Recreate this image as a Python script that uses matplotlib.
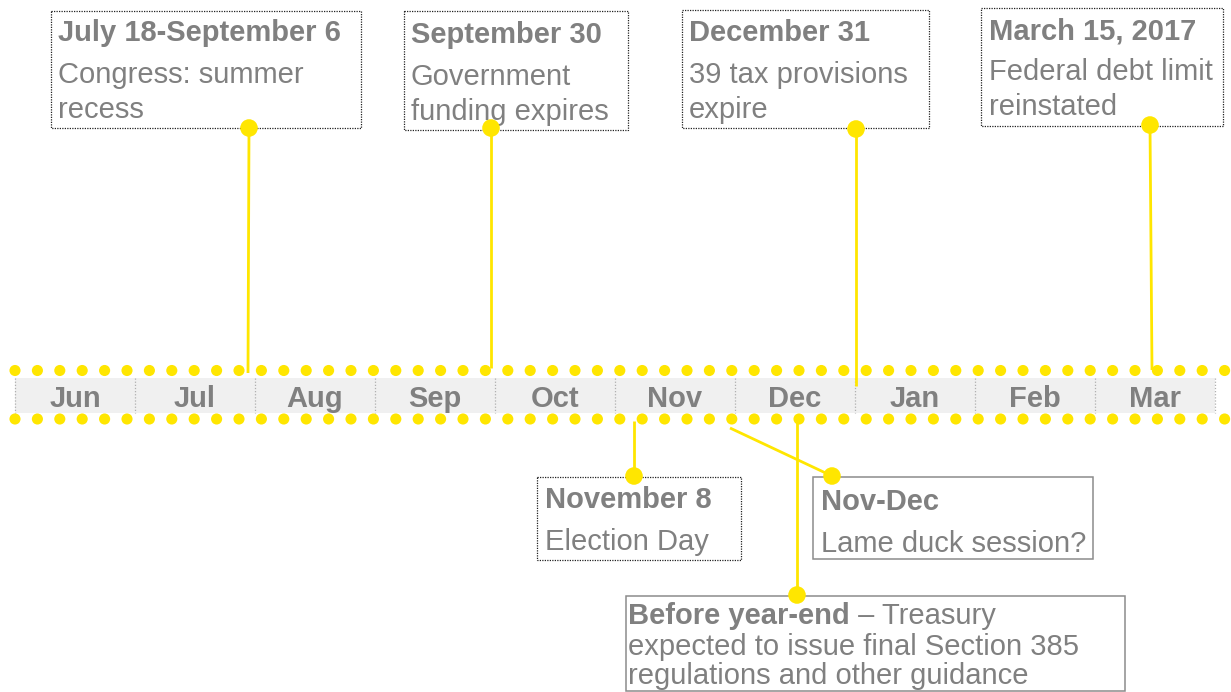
import matplotlib
matplotlib.use("Agg")
import matplotlib.pyplot as plt
from matplotlib.patches import Rectangle

# ---------------- data ----------------
months = ["Jun", "Jul", "Aug", "Sep", "Oct", "Nov", "Dec", "Jan", "Feb", "Mar"]

upper_titles = ["July 18-September 6", "September 30", "December 31", "March 15, 2017"]
upper_bodies = [["Congress: summer", "recess"],
                ["Government", "funding expires"],
                ["39 tax provisions", "expire"],
                ["Federal debt limit", "reinstated"]]

lower_titles = ["November 8", "Nov-Dec"]
lower_bodies = [["Election Day"], ["Lame duck session?"]]

yearend_title = "Before year-end"
yearend_rest = " \u2013 Treasury"
yearend_lines = ["expected to issue final Section 385", "regulations and other guidance"]

# ---------------- layout (pixels) ----------------
W, H = 1231, 692
YELLOW = "#FFE600"
GRAY = "#808080"
FS = 21
FONT = "Liberation Sans"

fig = plt.figure(figsize=(W / 100, H / 100), dpi=100)
ax = fig.add_axes([0, 0, 1, 1])
ax.set_xlim(0, W)
ax.set_ylim(H, 0)
ax.axis("off")

# timeline band
band_x0, cell_w, band_top, band_bot = 15, 120, 378, 413
for i, m in enumerate(months):
    x0 = band_x0 + i * cell_w
    ax.add_patch(Rectangle((x0, band_top), cell_w, band_bot - band_top,
                           facecolor="#f0f0f0", edgecolor="none", zorder=1))
    ax.text(x0 + cell_w / 2, 407, m, ha="center", va="baseline", fontsize=FS,
            fontweight="bold", color=GRAY, family=FONT, zorder=3)
for i in range(len(months) + 1):
    x = band_x0 + i * cell_w
    ax.plot([x, x], [band_top, band_bot], color="#b0b0b0", lw=0.9,
            ls=(0, (1, 1.5)), zorder=2)

# dotted yellow rows
n_dots = 55
xs = [15 + k * 22.4 for k in range(n_dots)]
for yrow in (370.5, 419):
    ax.scatter(xs, [yrow] * n_dots, s=64, color=YELLOW, edgecolors="none",
               zorder=4, clip_on=False)


def box(x0, y0, x1, y1, dotted):
    if dotted:
        ax.add_patch(Rectangle((x0, y0), x1 - x0, y1 - y0, facecolor="white",
                               edgecolor="#222222", lw=0.9, ls=(0, (1, 1)),
                               zorder=5))
    else:
        ax.add_patch(Rectangle((x0, y0), x1 - x0, y1 - y0, facecolor="white",
                               edgecolor="#8c8c8c", lw=1.1, zorder=5))


def connector(p0, p1):
    ax.plot([p0[0], p1[0]], [p0[1], p1[1]], color=YELLOW, lw=2.0, zorder=3,
            solid_capstyle="butt")
    ax.scatter([p1[0]], [p1[1]], s=160, color=YELLOW, edgecolors="none",
               zorder=7, clip_on=False)


# upper boxes: (x0, y0, x1, y1), text x, baselines, connector start/end
upper_layout = [
    ((51, 11, 361, 128), 58, (41, 83, 118), (248, 373), (249, 128)),
    ((404, 11, 628, 130), 411, (43, 85, 120), (491, 368), (491, 128)),
    ((682, 10, 929, 128), 689, (41, 83, 118), (856, 386), (856, 129)),
    ((981, 8, 1223, 126), 989, (39, 80, 115), (1152, 370), (1150, 125)),
]
for (title, body, lay) in zip(upper_titles, upper_bodies, upper_layout):
    (bx0, by0, bx1, by1), tx, bl, c0, c1 = lay
    box(bx0, by0, bx1, by1, dotted=True)
    ax.text(tx, bl[0], title, ha="left", va="baseline", fontsize=FS,
            fontweight="bold", color=GRAY, family=FONT, zorder=6)
    for line, b in zip(body, bl[1:]):
        ax.text(tx, b, line, ha="left", va="baseline", fontsize=FS,
                color=GRAY, family=FONT, zorder=6)
    connector(c0, c1)

# lower boxes
lower_layout = [
    ((537, 477, 741, 560), 545, (508, 550), True, (634, 421), (634, 476)),
    ((813, 477, 1093, 559), 821, (510, 552), False, (730, 428), (832, 476)),
]
for (title, body, lay) in zip(lower_titles, lower_bodies, lower_layout):
    (bx0, by0, bx1, by1), tx, bl, dotted, c0, c1 = lay
    box(bx0, by0, bx1, by1, dotted=dotted)
    ax.text(tx, bl[0], title, ha="left", va="baseline", fontsize=FS,
            fontweight="bold", color=GRAY, family=FONT, zorder=6)
    for line, b in zip(body, bl[1:]):
        ax.text(tx, b, line, ha="left", va="baseline", fontsize=FS,
                color=GRAY, family=FONT, zorder=6)
    connector(c0, c1)

# year-end box
box(626, 596, 1125, 691, dotted=False)
connector((797, 416), (797, 595))
t = ax.text(628, 624, yearend_title, ha="left", va="baseline", fontsize=FS,
            fontweight="bold", color=GRAY, family=FONT, zorder=6)
fig.canvas.draw()
r = fig.canvas.get_renderer()
bb = t.get_window_extent(renderer=r)
x_end = ax.transData.inverted().transform((bb.x1, bb.y0))[0]
ax.text(x_end, 624, yearend_rest, ha="left", va="baseline", fontsize=FS,
        color=GRAY, family=FONT, zorder=6)
for line, b in zip(yearend_lines, (655, 684)):
    ax.text(628, b, line, ha="left", va="baseline", fontsize=FS,
            color=GRAY, family=FONT, zorder=6)

fig.savefig("out.png", dpi=100, facecolor="white")
